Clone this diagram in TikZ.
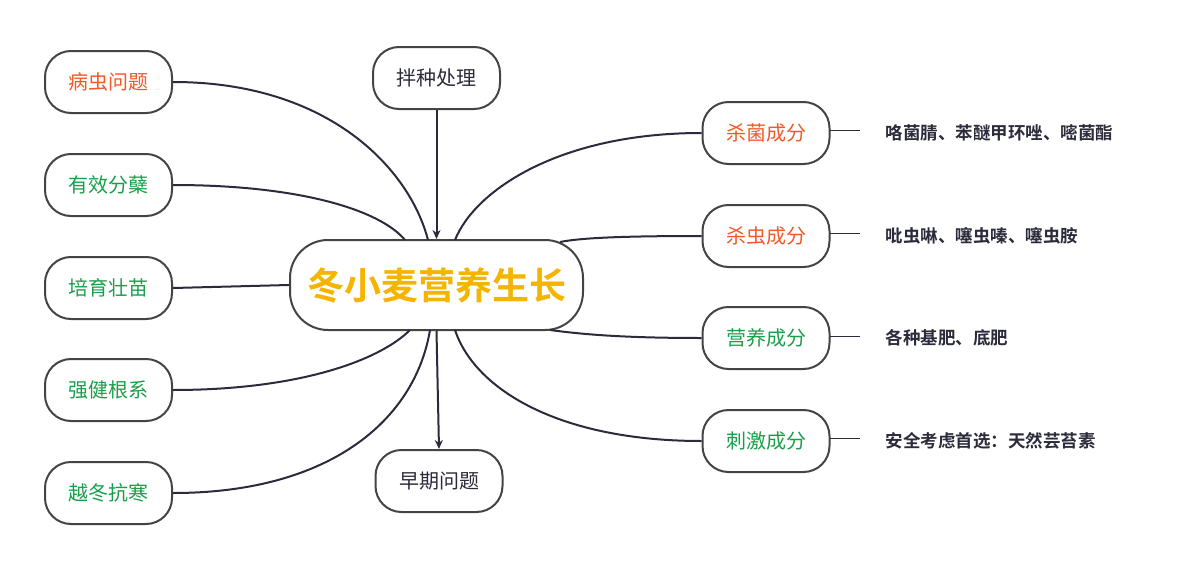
\documentclass[tikz,border=0pt]{standalone}
\usepackage{fontspec}
\setmainfont{Noto Sans CJK SC}
\newfontfamily\cjkb{Noto Sans CJK SC Bold}
\usetikzlibrary{arrows.meta}
\definecolor{orn}{HTML}{F05A28}
\definecolor{grn}{HTML}{1A9E4A}
\definecolor{gold}{HTML}{F5B400}
\definecolor{ln}{HTML}{2B2B3B}
\definecolor{bd}{HTML}{444444}
\tikzset{
 box/.style={draw=bd,line width=2pt,rounded corners=26pt,minimum width=127pt,minimum height=62pt,font=\fontsize{20}{24}\selectfont,fill=white,inner sep=0pt},
 conn/.style={draw=ln,line width=2pt},
 lab/.style={anchor=west,font=\cjkb\fontsize{17.5}{20}\selectfont,text=ln},
 arr/.style={conn,-{Stealth[length=9pt,width=8pt]}}
}
\begin{document}
\begin{tikzpicture}[x=1pt,y=-1pt]
\useasboundingbox (0,0) rectangle (1200,570);
\node[box,minimum width=293pt,minimum height=90pt,rounded corners=38pt,font=\cjkb\fontsize{37}{42}\selectfont,text=gold] (c) at (436.5,285) {冬小麦营养生长};
\node[box,text=orn] (l1) at (108.5,82) {病虫问题};
\node[box,text=grn] (l2) at (108.5,185) {有效分蘖};
\node[box,text=grn] (l3) at (108.5,288) {培育壮苗};
\node[box,text=grn] (l4) at (108.5,390) {强健根系};
\node[box,text=grn] (l5) at (108.5,493) {越冬抗寒};
\node[box,text=ln] (t) at (436.5,78) {拌种处理};
\node[box,text=ln] (b) at (439,481) {早期问题};
\node[box,text=orn] (r1) at (766,133) {杀菌成分};
\node[box,text=orn] (r2) at (766,236) {杀虫成分};
\node[box,text=grn] (r3) at (766,338) {营养成分};
\node[box,text=grn] (r4) at (766,441) {刺激成分};
\coordinate (e1) at (860,130); \coordinate (e2) at (860,233);
\coordinate (e3) at (860,336); \coordinate (e4) at (860,438);
\draw[conn] (l1.east) .. controls (330,82) and (410,170) .. (428,240);
\draw[conn] (l2.east) .. controls (300,185) and (380,210) .. (405,240);
\draw[conn] (l3.east) -- (c.west);
\draw[conn] (l4.east) .. controls (300,390) and (380,360) .. (410,330);
\draw[conn] (l5.east) .. controls (330,493) and (415,420) .. (430,330);
\draw[conn] (r1.west) .. controls (560,133) and (475,190) .. (455,240);
\draw[conn] (r2.west) .. controls (620,236) and (580,238) .. (560,242);
\draw[conn] (r3.west) .. controls (620,338) and (580,334) .. (550,330);
\draw[conn] (r4.west) .. controls (560,441) and (475,390) .. (455,330);
\draw[arr] (t.south) -- (c.north);
\draw[arr] (c.south) -- (b.north);
\draw[conn,line width=1pt] (830,130) -- (e1);
\draw[conn,line width=1pt] (830,233) -- (e2);
\draw[conn,line width=1pt] (830,336) -- (e3);
\draw[conn,line width=1pt] (830,438) -- (e4);
\node[lab] (n1) at (882,133) {咯菌腈、苯醚甲环唑、嘧菌酯};
\node[lab] (n2) at (882,236) {吡虫啉、噻虫嗪、噻虫胺};
\node[lab] (n3) at (882,338) {各种基肥、底肥};
\node[lab] (n4) at (882,441) {安全考虑首选：天然芸苔素};
\end{tikzpicture}
\end{document}
